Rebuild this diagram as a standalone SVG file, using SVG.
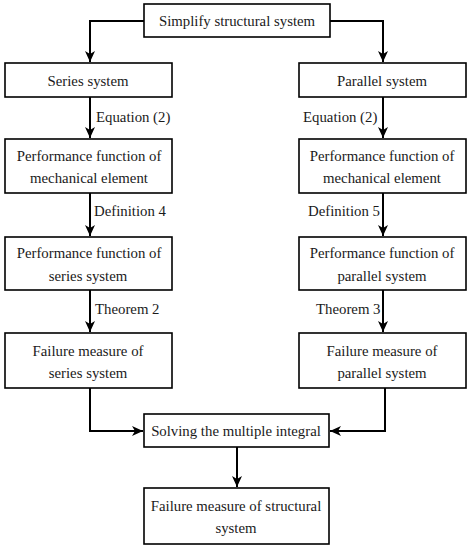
<svg xmlns="http://www.w3.org/2000/svg" width="470" height="550" viewBox="0 0 470 550">
<style>
.box{fill:#fff;stroke:#000;stroke-width:1.6}
.t{font-family:"Liberation Serif","Times New Roman",serif;font-size:14.8px;fill:#1a1a1a;text-anchor:middle}
.l{font-family:"Liberation Serif","Times New Roman",serif;font-size:14.8px;fill:#1a1a1a}
.c{fill:none;stroke:#000;stroke-width:2}
</style>
<defs>
<marker id="a" markerWidth="12" markerHeight="12" viewBox="0 0 12 12" refX="11" refY="6" orient="auto" markerUnits="userSpaceOnUse">
<path d="M0,1 L11,6 L0,11 L3,6 Z" fill="#000"/>
</marker>
</defs>
<rect width="470" height="550" fill="#fff"/>
<g id="connectors">
<path class="c" d="M144,21 H90 V62" marker-end="url(#a)"/>
<path class="c" d="M330,21 H383 V62" marker-end="url(#a)"/>
<path class="c" d="M90,97 V138" marker-end="url(#a)"/>
<path class="c" d="M383,97 V138" marker-end="url(#a)"/>
<path class="c" d="M90,193 V236" marker-end="url(#a)"/>
<path class="c" d="M383,193 V236" marker-end="url(#a)"/>
<path class="c" d="M90,290 V332" marker-end="url(#a)"/>
<path class="c" d="M383,290 V332" marker-end="url(#a)"/>
<path class="c" d="M90,388 V431 H143" marker-end="url(#a)"/>
<path class="c" d="M385,388 V431 H330" marker-end="url(#a)"/>
<path class="c" d="M237,447 V487" marker-end="url(#a)"/>
<text class="l" x="96" y="122">Equation (2)</text>
<text class="l" x="303" y="122">Equation (2)</text>
<text class="l" x="94" y="216">Definition 4</text>
<text class="l" x="308" y="216">Definition 5</text>
<text class="l" x="95" y="314">Theorem 2</text>
<text class="l" x="316" y="314">Theorem 3</text>
</g>
<g id="n1"><rect class="box" x="144" y="4" width="186" height="33"/><text class="t" x="237" y="26">Simplify structural system</text></g>
<g id="n2"><rect class="box" x="5" y="63" width="167" height="34"/><text class="t" x="88" y="86">Series system</text></g>
<g id="n3"><rect class="box" x="299" y="63" width="167" height="34"/><text class="t" x="382" y="86">Parallel system</text></g>
<g id="n4"><rect class="box" x="5" y="139" width="167" height="54"/><text class="t" x="89" y="161">Performance function of</text><text class="t" x="89" y="183">mechanical element</text></g>
<g id="n5"><rect class="box" x="299" y="139" width="167" height="54"/><text class="t" x="382" y="161">Performance function of</text><text class="t" x="382" y="183">mechanical element</text></g>
<g id="n6"><rect class="box" x="5" y="237" width="167" height="53"/><text class="t" x="89" y="258">Performance function of</text><text class="t" x="88" y="281">series system</text></g>
<g id="n7"><rect class="box" x="299" y="237" width="167" height="53"/><text class="t" x="382" y="258">Performance function of</text><text class="t" x="382" y="281">parallel system</text></g>
<g id="n8"><rect class="box" x="5" y="333" width="167" height="55"/><text class="t" x="88" y="356">Failure measure of</text><text class="t" x="88" y="378">series system</text></g>
<g id="n9"><rect class="box" x="299" y="333" width="167" height="55"/><text class="t" x="382" y="356">Failure measure of</text><text class="t" x="382" y="378">parallel system</text></g>
<g id="n10"><rect class="box" x="144" y="414" width="185" height="33"/><text class="t" x="236" y="436">Solving the multiple integral</text></g>
<g id="n11"><rect class="box" x="144" y="488" width="185" height="56"/><text class="t" x="236" y="511">Failure measure of structural</text><text class="t" x="236" y="533">system</text></g>
</svg>
